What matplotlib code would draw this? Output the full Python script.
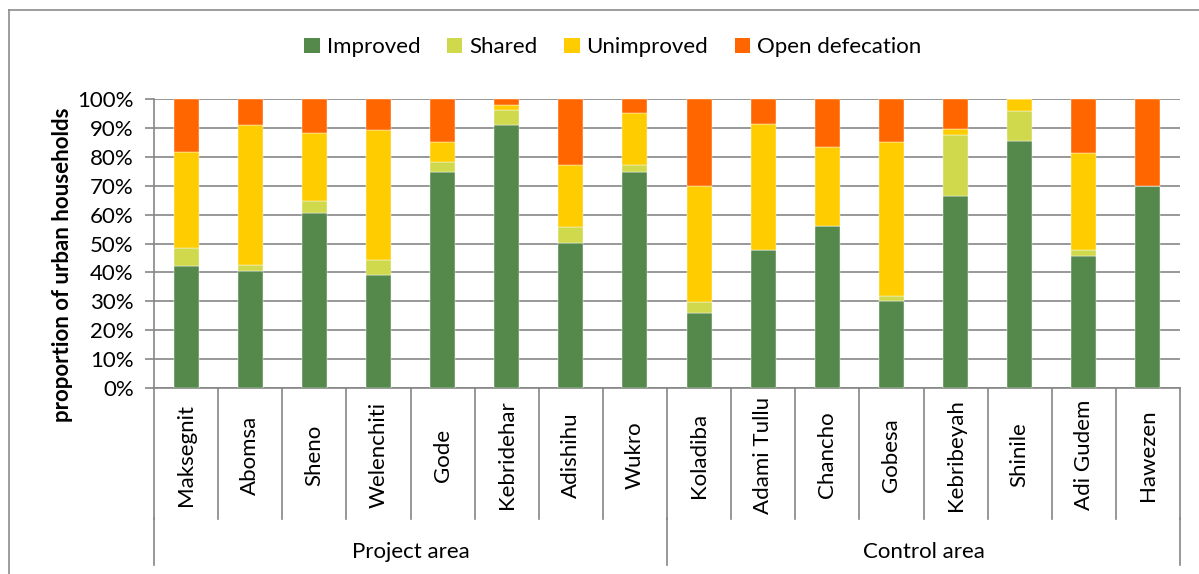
import numpy as np
import matplotlib.pyplot as plt
from matplotlib.patches import Patch
from matplotlib.lines import Line2D
import matplotlib.transforms as mtransforms

plt.rcParams['font.family'] = ['Lato', 'DejaVu Sans']

towns = ['Maksegnit', 'Abomsa', 'Sheno', 'Welenchiti', 'Gode', 'Kebridehar', 'Adishihu', 'Wukro',
         'Koladiba', 'Adami Tullu', 'Chancho', 'Gobesa', 'Kebribeyah', 'Shinile', 'Adi Gudem', 'Hawezen']
groups = ['Project area', 'Control area']
group_size = [8, 8]

# percent of households
improved = [42.3, 40.4, 60.6, 39.1, 74.9, 91.0, 50.3, 74.9,
            25.8, 47.7, 56.1, 30.0, 66.5, 85.6, 45.7, 69.9]
shared = [6.3, 2.1, 4.1, 5.1, 3.3, 5.1, 5.4, 2.1,
          4.1, 0.0, 0.0, 2.0, 20.9, 10.2, 2.2, 0.0]
unimproved = [33.2, 48.6, 23.5, 45.1, 6.9, 1.8, 21.4, 18.0,
              40.0, 43.6, 27.3, 53.0, 2.2, 4.2, 33.4, 0.0]
open_def = [18.2, 8.9, 11.8, 10.7, 14.9, 2.1, 22.9, 5.0,
            30.1, 8.7, 16.6, 15.0, 10.4, 0.0, 18.7, 30.1]

series = [('Improved', improved, '#55884b'),
          ('Shared', shared, '#d0d84c'),
          ('Unimproved', unimproved, '#ffcc00'),
          ('Open defecation', open_def, '#ff6600')]

fs = 16
fig = plt.figure(figsize=(11.99, 5.74), dpi=100)
ax = fig.add_axes([154 / 1199, 1 - 388 / 574, (1180 - 154) / 1199, (388 - 99) / 574])

x = np.arange(len(towns))
bottom = np.zeros(len(towns))
for name, vals, col in series:
    vals = np.array(vals)
    ax.bar(x, vals, 0.39, bottom=bottom, color=col, label=name, zorder=3,
           edgecolor='white', linewidth=0.3)
    bottom += vals

grid_col = '#868686'
ax.set_xlim(-0.5, len(towns) - 0.5)
ax.set_ylim(0, 100)
ax.set_yticks(np.arange(0, 101, 10))
ax.set_yticklabels([f'{v}%' for v in range(0, 101, 10)], fontsize=fs)
ax.yaxis.grid(True, color=grid_col, linewidth=1.2, zorder=0)
ax.tick_params(axis='y', length=6.5, color=grid_col, width=1.2, pad=8)
ax.set_xticks([])
for s in ['top', 'right']:
    ax.spines[s].set_visible(False)
for s in ['left', 'bottom']:
    ax.spines[s].set_color(grid_col)
    ax.spines[s].set_linewidth(1.2)
ax.set_ylabel('proportion of urban households', fontsize=16, fontweight='bold')
ax.yaxis.set_label_coords(-0.079, 0.4256)

trans = mtransforms.blended_transform_factory(ax.transData, ax.transAxes)
# category separators and labels
for i in range(len(towns) + 1):
    ax.add_line(Line2D([i - 0.5, i - 0.5], [0, -0.453], transform=trans, color=grid_col,
                       linewidth=1.2, clip_on=False))
for i, t in enumerate(towns):
    ax.text(i, -0.232, t, transform=trans, rotation=90, ha='center', va='center', fontsize=fs)

# group separators and labels
start = 0
edges = [0]
for n in group_size:
    start += n
    edges.append(start)
for e in edges:
    ax.add_line(Line2D([e - 0.5, e - 0.5], [-0.45, -0.612], transform=trans, color=grid_col,
                       linewidth=1.2, clip_on=False))
for g, a, b in zip(groups, edges[:-1], edges[1:]):
    ax.text((a + b - 1) / 2, -0.567, g, transform=trans, ha='center', va='center', fontsize=fs)

handles = [Patch(facecolor=c, label=n) for n, v, c in series]
fig.legend(handles=handles, loc='center', bbox_to_anchor=(0.511, 0.918), ncol=4, frameon=False,
           fontsize=fs, handlelength=0.7, handleheight=0.7, handletextpad=0.3, columnspacing=1.2)

# chart area border (only left and top are visible in the picture)
fig.add_artist(Line2D([9 / 1199, 9 / 1199], [0, 1 - 10 / 574], transform=fig.transFigure,
                      color='#8c8c8c', linewidth=1.2))
fig.add_artist(Line2D([9 / 1199, 1], [1 - 10 / 574, 1 - 10 / 574], transform=fig.transFigure,
                      color='#8c8c8c', linewidth=1.2))

fig.savefig('out.png', dpi=100)
